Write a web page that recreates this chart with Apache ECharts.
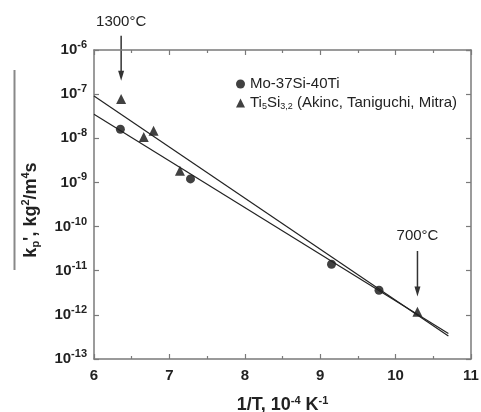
<!DOCTYPE html>
<html><head><meta charset="utf-8">
<script src="https://cdn.jsdelivr.net/npm/echarts@6/dist/echarts.min.js"></script>
<style>html,body{margin:0;padding:0;background:#fff}#c{width:481px;height:412px}</style>
</head><body><div id="c"></div>
<script>
// ---- data ----
const moX = [6.35, 7.28, 9.15, 9.78];
const moY = [1.6e-8, 1.2e-9, 1.4e-11, 3.6e-12];
const tiX = [6.36, 6.66, 6.79, 7.14, 10.29];
const tiY = [7.8e-8, 1.07e-8, 1.48e-8, 1.85e-9, 1.17e-12];
const fitUpperX = [6, 10.7];
const fitUpperY = [9.1e-8, 3.3e-13];
const fitLowerX = [6, 10.7];
const fitLowerY = [3.5e-8, 3.8e-13];
const seriesNames = ['Mo-37Si-40Ti', 'Ti5Si3,2 (Akinc, Taniguchi, Mitra)'];
const xTicks = [6, 7, 8, 9, 10, 11];
const yDecades = [-13, -12, -11, -10, -9, -8, -7, -6];
// annotations: temperature labels with arrows (x in 1/T units, y values)
const annoText = ['1300°C', '700°C'];
const annoX = [6.36, 10.29];
const annoTextY = [4.3e-6, 6.3e-11];
const annoArrowFrom = [2.1e-6, 2.8e-11];
const annoArrowTo = [2.0e-7, 2.6e-12];

const zip = (a, b) => a.map((v, i) => [v, b[i]]);
const AX = '#7a7a7a';
const TXT = '#222';
const FONT = 'Liberation Sans, Arial, sans-serif';

const chart = echarts.init(document.getElementById('c'), null, {renderer: 'canvas'});
const xBase = {
  type: 'value', min: xTicks[0], max: xTicks[xTicks.length - 1], interval: 1,
  axisLine: {lineStyle: {color: AX, width: 1.5}},
  axisTick: {inside: true, length: 5, lineStyle: {color: AX, width: 1.2}},
  minorTick: {show: true, splitNumber: 2, length: 3, lineStyle: {color: AX, width: 1.2}},
  splitLine: {show: false}
};
const yBase = {
  type: 'log', logBase: 10, min: Math.pow(10, yDecades[0]), max: Math.pow(10, yDecades[yDecades.length - 1]),
  axisLine: {show: true, lineStyle: {color: AX, width: 1.5}},
  axisTick: {inside: true, length: 5, lineStyle: {color: AX, width: 1.2}},
  splitLine: {show: false}
};
chart.setOption({
  animation: false,
  grid: {left: 94, right: 10, top: 50, bottom: 53, containLabel: false, outerBoundsMode: 'none'},
  legend: {
    orient: 'vertical', left: 231, top: 71, itemGap: 3,
    itemWidth: 9, itemHeight: 9,
    data: seriesNames,
    formatter: function (n) {
      if (n === seriesNames[1]) return '{n|Ti}{sub|5}{n|Si}{sub|3,2}{n| (Akinc, Taniguchi, Mitra)}';
      return '{n|' + n + '}';
    },
    textStyle: {
      fontFamily: FONT, color: TXT, fontSize: 15, lineHeight: 16,
      rich: {
        n: {fontFamily: FONT, color: TXT, fontSize: 15},
        sub: {fontFamily: FONT, color: TXT, fontSize: 9, padding: [8, 0, 0, 0]}
      }
    }
  },
  xAxis: [
    Object.assign({}, xBase, {
      position: 'bottom',
      axisLabel: {margin: 9, color: TXT, fontFamily: FONT, fontWeight: 'bold', fontSize: 15},
      name: '{b|1/T, 10}{s|-4}{b| K}{s|-1}', nameLocation: 'middle', nameGap: 36,
      nameTextStyle: {
        rich: {
          b: {fontFamily: FONT, fontWeight: 'bold', fontSize: 18, color: TXT},
          s: {fontFamily: FONT, fontWeight: 'bold', fontSize: 11, color: TXT, padding: [0, 0, 10, 0]}
        }
      }
    }),
    Object.assign({}, xBase, {position: 'top', axisLabel: {show: false}})
  ],
  yAxis: [
    Object.assign({}, yBase, {
      position: 'left',
      axisLabel: {
        margin: 7, color: TXT,
        formatter: function (v) {
          const e = Math.round(Math.log10(v));
          return '{b|10}{s|' + e + '}';
        },
        rich: {
          b: {fontFamily: FONT, fontWeight: 'bold', fontSize: 15, color: TXT},
          s: {fontFamily: FONT, fontWeight: 'bold', fontSize: 11, color: TXT, padding: [0, 0, 10, 0]}
        }
      }
    }),
    Object.assign({}, yBase, {position: 'right', axisLabel: {show: false}})
  ],
  series: [
    {name: 'fitU', type: 'line', data: zip(fitUpperX, fitUpperY), showSymbol: false, silent: true,
     lineStyle: {color: '#222', width: 1.2}},
    {name: 'fitL', type: 'line', data: zip(fitLowerX, fitLowerY), showSymbol: false, silent: true,
     lineStyle: {color: '#222', width: 1.2}},
    {name: seriesNames[0], type: 'scatter', symbol: 'circle', symbolSize: 9,
     itemStyle: {color: '#111'}, data: zip(moX, moY)},
    {name: seriesNames[1], type: 'scatter', symbol: 'triangle', symbolSize: 10,
     itemStyle: {color: '#111'}, data: zip(tiX, tiY)}
  ]
});

// annotations & y-axis title via graphic
const g = [];
const px = p => chart.convertToPixel({xAxisIndex: 0, yAxisIndex: 0}, p);
annoText.forEach((t, i) => {
  const tp = px([annoX[i], annoTextY[i]]);
  const a = px([annoX[i], annoArrowFrom[i]]);
  const b = px([annoX[i], annoArrowTo[i]]);
  g.push({type: 'text', x: tp[0], y: tp[1], style: {text: t, fontFamily: FONT, fontSize: 15, fill: TXT, align: 'center', verticalAlign: 'middle'}});
  g.push({type: 'line', shape: {x1: a[0], y1: a[1], x2: b[0], y2: b[1] - 6}, style: {stroke: '#333', lineWidth: 1.5}});
  g.push({type: 'polygon', shape: {points: [[b[0] - 3, b[1] - 10], [b[0] + 3, b[1] - 10], [b[0], b[1]]]}, style: {fill: '#333'}});
});
// y axis title (rotated) with overline
g.push({type: 'line', shape: {x1: 14.5, y1: 70, x2: 14.5, y2: 270}, style: {stroke: '#888', lineWidth: 2}});
g.push({type: 'text', x: 31, y: 210, rotation: Math.PI / 2,
  style: {
    text: "{b|k}{sub|p}{b|', kg}{sup|2}{b|/m}{sup|4}{b|s}",
    align: 'center', verticalAlign: 'middle',
    rich: {
      b: {fontFamily: FONT, fontWeight: 'bold', fontSize: 18, fill: TXT},
      sub: {fontFamily: FONT, fontWeight: 'bold', fontSize: 11, fill: TXT, padding: [10, 0, 0, 0]},
      sup: {fontFamily: FONT, fontWeight: 'bold', fontSize: 11, fill: TXT, padding: [0, 0, 10, 0]}
    }
  }});
chart.setOption({graphic: g});
</script></body></html>
